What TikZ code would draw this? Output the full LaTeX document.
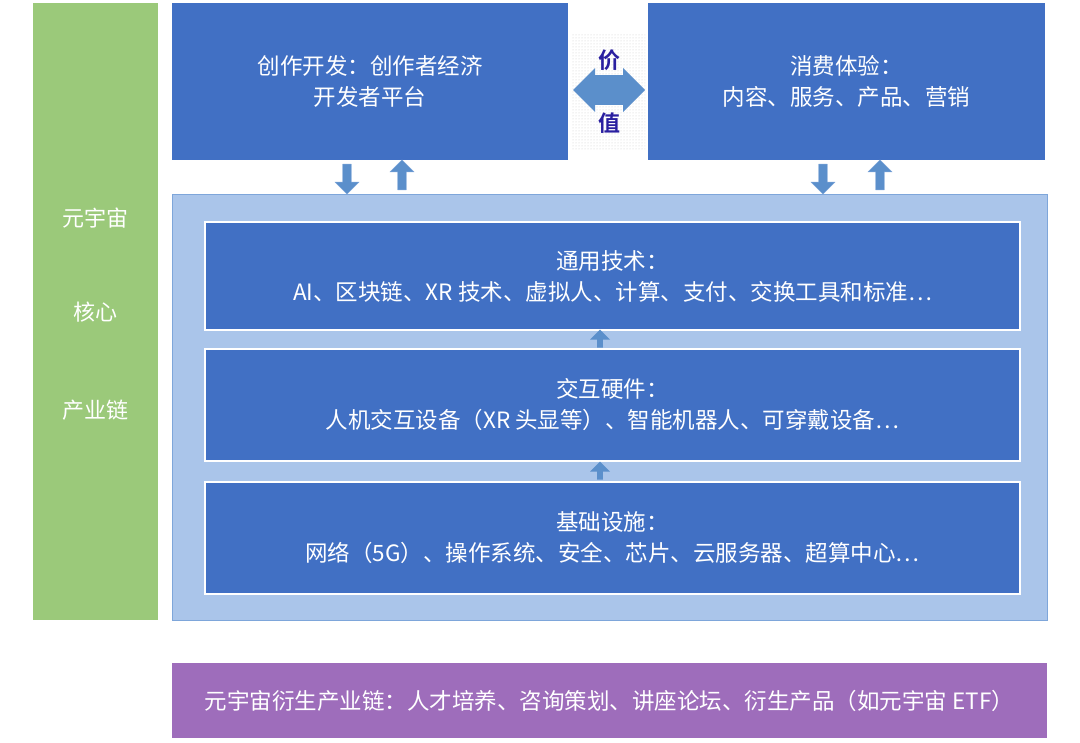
\documentclass[tikz,border=0pt]{standalone}
\usepackage{fontspec}
\setmainfont{Noto Sans CJK SC}[BoldFont={Noto Sans CJK SC Bold}]
\usetikzlibrary{shapes.arrows,patterns}
\definecolor{gbar}{HTML}{9BC97A}
\definecolor{bbox}{HTML}{4170C4}
\definecolor{lpanel}{HTML}{AAC5EA}
\definecolor{lborder}{HTML}{7EA6DA}
\definecolor{arr}{HTML}{5B8FCB}
\definecolor{pbar}{HTML}{9E6DBB}
\definecolor{vtxt}{HTML}{2A1FA0}
\tikzset{
  blk/.style={fill=bbox,draw=none,text=white,align=center,font=\fontsize{22.5}{31}\selectfont},
  inner/.style={fill=bbox,draw=white,line width=2.5pt,text=white,align=center,font=\fontsize{22.5}{31}\selectfont},
  upar/.style={single arrow,draw=lborder,fill=arr,shape border rotate=90,minimum height=30pt,minimum width=24pt,single arrow head extend=4pt,inner sep=2pt},
  dnar/.style={upar,shape border rotate=270},
  smar/.style={single arrow,draw=none,fill=arr,shape border rotate=90,minimum height=18pt,minimum width=20pt,single arrow head extend=3pt,inner sep=1pt},
  side/.style={text=white,font=\fontsize{22}{24}\selectfont}
}
\begin{document}
\begin{tikzpicture}[x=1pt,y=-1pt]
\useasboundingbox[fill=white] (0,0) rectangle (1080,743);
\fill[gbar] (33,3) rectangle (158,620);
\node[side] (s1) at (95,218) {元宇宙};
\node[side] (s2) at (95,312) {核心};
\node[side] (s3) at (95,410) {产业链};
\node[blk,minimum width=396pt,minimum height=157pt] (cre) at (370,81.5) {创作开发：创作者经济\\开发者平台};
\node[blk,minimum width=397pt,minimum height=157pt] (con) at (846.5,81.5) {消费体验：\\内容、服务、产品、营销};
\fill[pattern=dots,pattern color=gray!40] (572,35) rectangle (645,150);
\node[double arrow,fill=arr,draw=none,minimum height=72pt,minimum width=44pt,double arrow head extend=2pt,inner sep=4pt] (va) at (609,90) {};
\node[text=vtxt,font=\fontsize{22}{24}\bfseries] (v1) at (609,60) {价};
\node[text=vtxt,font=\fontsize{22}{24}\bfseries] (v2) at (609,123) {值};
\fill[lpanel,draw=lborder,line width=1pt] (172,195) rectangle (1047,620);
\node[dnar] (d1) at (347,177) {};
\node[upar] (u1) at (402,177) {};
\node[dnar] (d2) at (823,177) {};
\node[upar] (u2) at (880,177) {};
\node[inner,minimum width=815pt,minimum height=108pt] (tech) at (612.5,276) {通用技术：\\AI、区块链、XR 技术、虚拟人、计算、支付、交换工具和标准…};
\node[inner,minimum width=815pt,minimum height=112pt] (hw) at (612.5,405) {交互硬件：\\人机交互设备（XR 头显等）、智能机器人、可穿戴设备…};
\node[inner,minimum width=815pt,minimum height=112pt] (inf) at (612.5,538) {基础设施：\\网络（5G）、操作系统、安全、芯片、云服务器、超算中心…};
\node[smar] (a1) at (600,340) {};
\node[smar] (a2) at (600,472) {};
\node[fill=pbar,text=white,minimum width=875pt,minimum height=75pt,font=\fontsize{22.5}{26}\selectfont] (der) at (609.5,700.5) {元宇宙衍生产业链：人才培养、咨询策划、讲座论坛、衍生产品（如元宇宙 ETF）};
\end{tikzpicture}
\end{document}
